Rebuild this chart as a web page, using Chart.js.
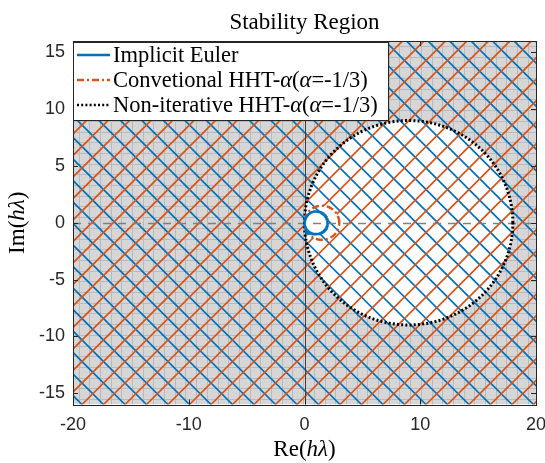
<!DOCTYPE html>
<html lang="en">
<head>
  <meta charset="UTF-8" />
  <title>Stability Region</title>
  <script src="https://cdn.jsdelivr.net/npm/chart.js"></script>
  <style>
    html, body { margin: 0; padding: 0; background: #fff; }
    #grafico { display: block; }
  </style>
</head>
<body>
  <canvas id="grafico" width="545" height="463"></canvas>

  <script>
    // datos
    const seriesNames = ['Implicit Euler', 'Convetional HHT-α(α=-1/3)', 'Non-iterative HHT-α(α=-1/3)'];
    const centerRe = [1, 1.5, 9];     // centro de cada circulo (eje real)
    const radius = [1, 1.5, 9];       // radio de cada circulo
    const xTicks = [-20, -10, 0, 10, 20];
    const yTicks = [-15, -10, -5, 0, 5, 10, 15];
    const xRange = [-20, 20];
    const yRange = [-16, 16];

    const SERIF = '"Liberation Serif", "DejaVu Serif", serif';
    const SANS = '"Liberation Sans", Arial, sans-serif';
    const colors = ['#0072BD', '#D95319', '#000000'];
    const dashes = [[], [7, 3, 2, 3], [2, 2.2]];

    function circlePts(c, r) {
      const pts = [];
      for (let i = 0; i <= 240; i++) {
        const t = i / 240 * 2 * Math.PI;
        pts.push({ x: c + r * Math.cos(t), y: r * Math.sin(t) });
      }
      return pts;
    }

    function richText(ctx, text, italicPart, x, y, size, align) {
      const parts = text.split(italicPart).length > 1
        ? text.split(new RegExp('(' + italicPart + ')')).map(s => [s, s === italicPart])
        : [[text, false]];
      let w = 0;
      parts.forEach(p => { ctx.font = (p[1] ? 'italic ' : '') + size + 'px ' + SERIF; w += ctx.measureText(p[0]).width; });
      let cx = align === 'center' ? x - w / 2 : x;
      ctx.textAlign = 'left';
      parts.forEach(p => {
        ctx.font = (p[1] ? 'italic ' : '') + size + 'px ' + SERIF;
        ctx.fillText(p[0], cx, y);
        cx += ctx.measureText(p[0]).width;
      });
      return w;
    }

    // fondo: region gris, rayado y ejes
    const regiones = {
      id: 'regiones',
      beforeDatasetsDraw(chart) {
        const { ctx, chartArea: a, scales: { x, y } } = chart;
        const w = a.right - a.left, h = a.bottom - a.top;
        const circ = i => {
          const cx = x.getPixelForValue(centerRe[i]), cy = y.getPixelForValue(0);
          const rx = Math.abs(x.getPixelForValue(radius[i]) - x.getPixelForValue(0));
          const ry = Math.abs(y.getPixelForValue(radius[i]) - y.getPixelForValue(0));
          ctx.moveTo(cx + rx, cy);
          ctx.ellipse(cx, cy, rx, ry, 0, 0, 2 * Math.PI);
        };
        const outside = i => { ctx.beginPath(); ctx.rect(a.left, a.top, w, h); circ(i); ctx.clip('evenodd'); };

        ctx.save();
        ctx.fillStyle = '#fff';
        ctx.fillRect(a.left, a.top, w, h);

        // gris fuera del circulo grande
        ctx.save();
        outside(2);
        ctx.fillStyle = '#d6d6d6';
        ctx.fillRect(a.left, a.top, w, h);
        ctx.strokeStyle = '#bababa';
        ctx.lineWidth = 1;
        ctx.beginPath();
        for (let gx = a.left + 5.5; gx < a.right; gx += 10.7) { ctx.moveTo(Math.round(gx) + 0.5, a.top); ctx.lineTo(Math.round(gx) + 0.5, a.bottom); }
        for (let gy = a.bottom - 5.5; gy > a.top; gy -= 10.7) { ctx.moveTo(a.left, Math.round(gy) + 0.5); ctx.lineTo(a.right, Math.round(gy) + 0.5); }
        ctx.stroke();
        ctx.restore();

        // rayado
        const P = 21.5, u0 = a.left + 9;
        ctx.lineWidth = 1.7;
        ctx.save();
        outside(0);
        ctx.strokeStyle = colors[0];
        ctx.beginPath();
        for (let u = u0 - P * 40; u < a.right + h + P; u += P) { ctx.moveTo(u, a.bottom); ctx.lineTo(u - h - 2, a.bottom - h - 2); }
        ctx.stroke();
        ctx.restore();
        ctx.save();
        outside(1);
        ctx.strokeStyle = colors[1];
        ctx.beginPath();
        for (let u = u0 - P * 40; u < a.right + P; u += P) { ctx.moveTo(u, a.bottom); ctx.lineTo(u + h + 2, a.bottom - h - 2); }
        ctx.stroke();
        ctx.restore();

        // lineas de los ejes
        ctx.beginPath();
        ctx.rect(a.left, a.top, w, h);
        ctx.clip();
        const y0 = Math.round(y.getPixelForValue(0)) + 0.5;
        ctx.strokeStyle = '#808080';
        ctx.lineWidth = 1.5;
        ctx.setLineDash([8, 7]);
        ctx.beginPath(); ctx.moveTo(a.left, y0); ctx.lineTo(a.right, y0); ctx.stroke();
        ctx.setLineDash([]);
        const x0 = Math.round(x.getPixelForValue(0)) + 0.5;
        ctx.strokeStyle = '#404040';
        ctx.lineWidth = 1;
        ctx.beginPath(); ctx.moveTo(x0, a.top); ctx.lineTo(x0, a.bottom); ctx.stroke();
        ctx.restore();
      },
      afterDraw(chart) {
        const { ctx, chartArea: a, scales: { x, y } } = chart;
        ctx.save();
        // marco y marcas interiores
        ctx.strokeStyle = '#262626';
        ctx.lineWidth = 1;
        ctx.strokeRect(Math.round(a.left) + 0.5, Math.round(a.top) + 0.5, Math.round(a.right - a.left), Math.round(a.bottom - a.top));
        ctx.beginPath();
        xTicks.forEach(v => {
          const p = Math.round(x.getPixelForValue(v)) + 0.5;
          ctx.moveTo(p, a.bottom); ctx.lineTo(p, a.bottom - 5);
          ctx.moveTo(p, a.top); ctx.lineTo(p, a.top + 5);
        });
        yTicks.forEach(v => {
          const p = Math.round(y.getPixelForValue(v)) + 0.5;
          ctx.moveTo(a.left, p); ctx.lineTo(a.left + 5, p);
          ctx.moveTo(a.right, p); ctx.lineTo(a.right - 5, p);
        });
        ctx.stroke();

        // titulo y etiquetas
        const mid = (a.left + a.right) / 2;
        ctx.fillStyle = '#000';
        ctx.textBaseline = 'alphabetic';
        ctx.font = '23px ' + SERIF;
        ctx.textAlign = 'center';
        ctx.fillText('Stability Region', mid, 29);
        richText(ctx, 'Re(hλ)', 'hλ', mid, 456, 23, 'center');
        ctx.save();
        ctx.translate(24, (a.top + a.bottom) / 2);
        ctx.rotate(-Math.PI / 2);
        richText(ctx, 'Im(hλ)', 'hλ', 0, 0, 23, 'center');
        ctx.restore();

        // leyenda
        const lx = Math.round(a.left) + 0.5, ly = 42.5, lw = 315, lh = 78;
        ctx.fillStyle = '#fff';
        ctx.fillRect(lx, ly, lw, lh);
        ctx.strokeStyle = '#262626';
        ctx.strokeRect(lx, ly, lw, lh);
        seriesNames.forEach((name, i) => {
          const ry = 55 + i * 25;
          ctx.strokeStyle = colors[i];
          ctx.lineWidth = 2.5;
          ctx.setLineDash(dashes[i]);
          ctx.beginPath(); ctx.moveTo(77, ry); ctx.lineTo(110, ry); ctx.stroke();
          ctx.setLineDash([]);
          ctx.fillStyle = '#000';
          richText(ctx, name, 'α', 113, ry + 7, 22.5, 'left');
        });
        ctx.restore();
      }
    };

    new Chart(document.getElementById('grafico'), {
      type: 'scatter',
      data: {
        datasets: seriesNames.map((name, i) => ({
          label: name,
          data: circlePts(centerRe[i], radius[i]),
          showLine: true,
          pointRadius: 0,
          borderColor: colors[i],
          borderWidth: i === 2 ? 3 : 2.5,
          borderDash: dashes[i],
          fill: false,
          tension: 0
        }))
      },
      options: {
        responsive: false,
        devicePixelRatio: 1,
        animation: false,
        layout: { padding: { top: 41, right: 9, left: 0, bottom: 0 } },
        plugins: {
          legend: { display: false },
          title: { display: false },
          tooltip: { enabled: false }
        },
        scales: {
          x: {
            type: 'linear',
            min: xRange[0],
            max: xRange[1],
            afterBuildTicks: s => { s.ticks = xTicks.map(v => ({ value: v })); },
            afterFit: s => { s.height = 58.5; s.paddingLeft = 0; s.paddingRight = 0; },
            grid: { display: false, drawTicks: false },
            border: { display: false },
            ticks: { color: '#262626', font: { family: SANS, size: 18 }, padding: 10, maxRotation: 0, autoSkip: false }
          },
          y: {
            type: 'linear',
            min: yRange[0],
            max: yRange[1],
            afterBuildTicks: s => { s.ticks = yTicks.map(v => ({ value: v })); },
            afterFit: s => { s.width = 73; s.paddingTop = 0; s.paddingBottom = 0; },
            grid: { display: false, drawTicks: false },
            border: { display: false },
            ticks: { color: '#262626', font: { family: SANS, size: 18 }, padding: 8, autoSkip: false }
          }
        }
      },
      plugins: [regiones]
    });
  </script>
</body>
</html>
